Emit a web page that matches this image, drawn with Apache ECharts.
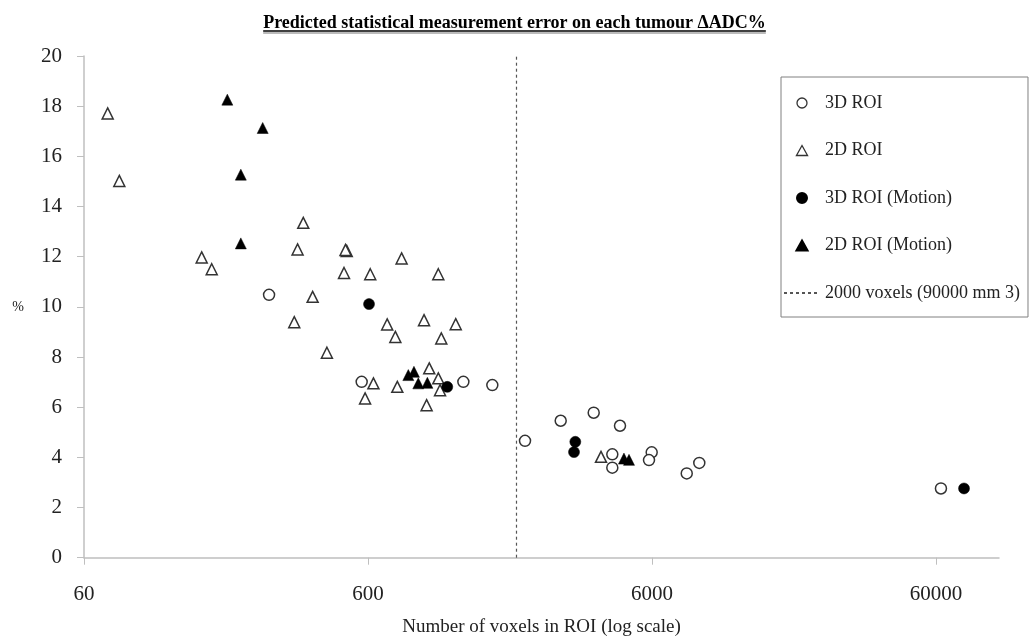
<!DOCTYPE html>
<html>
<head>
<meta charset="utf-8">
<script src="https://cdn.jsdelivr.net/npm/echarts@6/dist/echarts.min.js"></script>
<style>
html,body{margin:0;padding:0;background:#fff;}
#chart{width:1029px;height:642px;}
</style>
</head>
<body>
<div id="chart"></div>
<script>
// ---- Data (voxels in ROI, % error) ----
var roi3dVoxels = [269, 570, 1300, 1644, 2143, 2862, 3740, 4629, 4349, 4349, 5985, 5856, 7952, 8804, 62460];
var roi3dPct    = [10.48, 7.01, 7.01, 6.88, 4.66, 5.46, 5.78, 5.26, 4.12, 3.59, 4.20, 3.89, 3.36, 3.78, 2.76];

var roi2dVoxels = [72.7, 79.9, 155.8, 169, 355, 339, 505, 500, 788, 494, 611, 1061, 383, 330, 701, 945, 1222, 749, 1087, 430, 627, 586, 761, 986, 1061, 1076, 965, 3968];
var roi2dPct    = [17.71, 15.02, 11.97, 11.50, 13.35, 12.29, 12.23, 12.27, 11.93, 11.35, 11.30, 11.30, 10.40, 9.39, 9.30, 9.47, 9.31, 8.80, 8.74, 8.17, 6.95, 6.35, 6.81, 7.55, 7.15, 6.68, 6.08, 4.02];

var motion3dVoxels = [605, 1141, 3222, 3188, 75300];
var motion3dPct    = [10.11, 6.81, 4.62, 4.21, 2.76];

var motion2dVoxels = [191.8, 255.5, 214, 214, 832, 871, 902, 971, 4780, 4980];
var motion2dPct    = [18.26, 17.13, 15.27, 12.53, 7.28, 7.41, 6.95, 6.97, 3.95, 3.90];

var thresholdVoxels = 2000;
var xTickLabels = [60, 600, 6000, 60000];
var xAxisMaxVoxels = 100000;
var yTicks = [0, 2, 4, 6, 8, 10, 12, 14, 16, 18, 20];

var seriesNames = ['3D ROI', '2D ROI', '3D ROI (Motion)', '2D ROI (Motion)', '2000 voxels (90000 mm 3)'];
var titleText = 'Predicted statistical measurement error on each tumour \u0394ADC%';
var xTitle = 'Number of voxels in ROI (log scale)';
var yTitle = '%';

// ---- log transform relative to axis minimum (60 voxels) ----
var base = xTickLabels[0];
function lx(v){ return Math.log10(v / base); }
function pts(xs, ys){ return xs.map(function(x, i){ return [lx(x), ys[i]]; }); }

var serif = '"Liberation Serif", "Times New Roman", serif';
var openStyle = { color: '#ffffff', borderColor: '#333333', borderWidth: 1.5, opacity: 1 };
var fillStyle = { color: '#000000', borderColor: '#000000', borderWidth: 0.5, opacity: 1 };
var triPath = 'path://M5,0 L10,9 L0,9 Z';

// measure title width for the underline
var cv = document.createElement('canvas').getContext('2d');
cv.font = 'bold 18px ' + serif;
var tw = cv.measureText(titleText).width;
var tcx = 514.5;

var chart = echarts.init(document.getElementById('chart'), null, {renderer: 'canvas'});
chart.setOption({
  backgroundColor: '#ffffff',
  animation: false,
  title: {
    text: titleText, left: 'center', top: 9,
    textStyle: { fontFamily: serif, fontSize: 18, fontWeight: 'bold', color: '#000' }
  },
  graphic: [
    { type: 'line', shape: { x1: tcx - tw/2, y1: 33, x2: tcx + tw/2, y2: 33 }, style: { stroke: '#bbbbbb', lineWidth: 2 } },
    { type: 'line', shape: { x1: tcx - tw/2, y1: 31, x2: tcx + tw/2, y2: 31 }, style: { stroke: '#000000', lineWidth: 1.3 } }
  ],
  grid: { left: 84, right: 30, top: 56, bottom: 84.3, containLabel: false },
  legend: {
    orient: 'vertical', left: 781, top: 77,
    symbolKeepAspect: true,
    data: [
      { name: seriesNames[0], icon: 'circle', itemStyle: { color: '#fff', borderColor: '#333', borderWidth: 1.3 } },
      { name: seriesNames[1], icon: triPath, itemStyle: { color: '#fff', borderColor: '#333', borderWidth: 1.3 } },
      { name: seriesNames[2], icon: 'circle', itemStyle: { color: '#000', borderColor: '#000' } },
      { name: seriesNames[3], icon: triPath, itemStyle: { color: '#000', borderColor: '#000' } },
      { name: seriesNames[4], itemStyle: { color: 'rgba(0,0,0,0)', borderColor: 'rgba(0,0,0,0)', borderWidth: 0 } }
    ],
    itemWidth: 36, itemHeight: 10, itemGap: 29.5,
    padding: [17, 8, 15, 2],
    borderColor: '#808080', borderWidth: 1, backgroundColor: '#ffffff',
    textStyle: { fontFamily: serif, fontSize: 18, color: '#222' }
  },
  xAxis: {
    type: 'value', min: 0, max: lx(xAxisMaxVoxels),
    name: xTitle, nameLocation: 'middle', nameGap: 60,
    nameTextStyle: { fontFamily: serif, fontSize: 19, color: '#222' },
    axisLine: { show: true, lineStyle: { color: '#bfbfbf', width: 1.5 } },
    axisTick: { show: true, length: 7, lineStyle: { color: '#bfbfbf' }, customValues: xTickLabels.map(lx) },
    axisLabel: { fontFamily: serif, fontSize: 21, color: '#222', margin: 26,
      customValues: xTickLabels.map(lx),
      formatter: function(v){ return String(Math.round(base * Math.pow(10, v))); } },
    splitLine: { show: false }
  },
  yAxis: {
    type: 'value', min: yTicks[0], max: yTicks[yTicks.length-1], interval: yTicks[1]-yTicks[0],
    name: yTitle, nameLocation: 'middle', nameGap: 60, nameRotate: 0,
    nameTextStyle: { fontFamily: serif, fontSize: 14, color: '#222' },
    axisLine: { show: true, lineStyle: { color: '#bfbfbf', width: 1.5 } },
    axisTick: { show: true, length: 7, lineStyle: { color: '#bfbfbf' } },
    axisLabel: { fontFamily: serif, fontSize: 21, color: '#222', margin: 22 },
    splitLine: { show: false }
  },
  series: [
    { name: seriesNames[0], type: 'scatter', symbol: 'circle', symbolSize: 11,
      itemStyle: openStyle, data: pts(roi3dVoxels, roi3dPct), z: 3 },
    { name: seriesNames[1], type: 'scatter', symbol: 'triangle', symbolSize: 11,
      itemStyle: openStyle, data: pts(roi2dVoxels, roi2dPct), z: 4 },
    { name: seriesNames[2], type: 'scatter', symbol: 'circle', symbolSize: 11,
      itemStyle: fillStyle, data: pts(motion3dVoxels, motion3dPct), z: 5 },
    { name: seriesNames[3], type: 'scatter', symbol: 'triangle', symbolSize: 11,
      itemStyle: fillStyle, data: pts(motion2dVoxels, motion2dPct), z: 6 },
    { name: seriesNames[4], type: 'line', symbol: 'none', silent: true,
      itemStyle: { color: '#555555' },
      lineStyle: { color: '#555555', width: 1.2, type: [3, 3] },
      data: [[lx(thresholdVoxels), yTicks[0]], [lx(thresholdVoxels), yTicks[yTicks.length-1]]], z: 2 }
  ]
});
</script>
</body>
</html>
